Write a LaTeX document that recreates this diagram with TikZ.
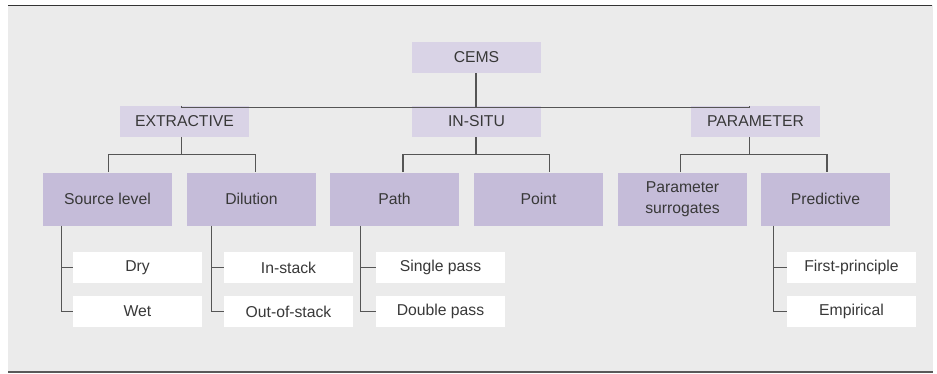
\documentclass[tikz,border=0pt]{standalone}
\usepackage{fontspec}
\setmainfont{Liberation Sans}
\usetikzlibrary{calc}
\definecolor{bgc}{HTML}{EBEBEB}
\definecolor{lavl}{HTML}{D9D3E6}
\definecolor{lavd}{HTML}{C5BCD9}
\definecolor{linec}{HTML}{555555}
\definecolor{txtc}{HTML}{383838}
\tikzset{
  box/.style={rectangle, inner sep=0pt, minimum width=96.75pt, font=\fontsize{11.8}{15.5}\selectfont, text=txtc, align=center},
  topbox/.style={box, fill=lavl, minimum height=23.25pt},
  midbox/.style={box, fill=lavd, minimum height=39.75pt},
  leafbox/.style={box, fill=white, minimum height=23.25pt},
  conn/.style={draw=linec, line width=0.95pt}
}
\begin{document}
\begin{tikzpicture}[x=0.75pt, y=-0.75pt]
\useasboundingbox (0,0) rectangle (937,374);
\fill[bgc] (8,5.5) rectangle (932.5,371);
\draw[line width=1.1pt, color=black!80] (8,5.5) -- (931.5,5.5);
\draw[line width=1.9pt, color=black!65] (8,371.8) -- (932.5,371.8);

% level 1 and 2
\node[topbox] (cems) at (476.5,57.5) {CEMS};
\node[topbox] (extr) at (184.5,121.5) {EXTRACTIVE};
\node[topbox] (insitu) at (476.5,121.5) {IN-SITU};
\node[topbox] (param) at (755.5,121.5) {PARAMETER};

% level 3
\node[midbox] (src) at (107.5,199) {Source level};
\node[midbox] (dil) at (251.5,199) {Dilution};
\node[midbox] (path) at (394.5,199) {Path};
\node[midbox] (point) at (538.5,199) {Point};
\node[midbox] (surr) at (682.5,199) {Parameter\\surrogates};
\node[midbox] (pred) at (825.5,199) {Predictive};

% level 4
\node[leafbox] (dry) at (137.5,267.5) {Dry};
\node[leafbox] (wet) at (137.5,311.5) {Wet};
\node[leafbox] (instack) at (288.5,267.5) {In-stack};
\node[leafbox] (outstack) at (288.5,311.5) {Out-of-stack};
\node[leafbox] (single) at (440.5,267.5) {Single pass};
\node[leafbox] (double) at (440.5,311.5) {Double pass};
\node[leafbox] (first) at (851.5,267.5) {First-principle};
\node[leafbox] (emp) at (851.5,311.5) {Empirical};

% level 1 -> 2
\coordinate (b1) at ($(cems.south)+(-0.5,34.5)$);
\draw[conn] (cems.south -| b1) -- (b1);
\draw[conn] ($(extr.north)+(-2.8,0)$) |- (b1) -| ($(param.north)+(-5.8,0)$);
\draw[conn] (b1) -- (insitu.north -| b1);

% level 2 -> 3
\draw[conn] ($(extr.south)+(-2.8,0)$) -- ++(0,17.3);
\draw[conn] ($(src.north)+(0.8,0)$) |- ($(extr.south)+(0,17.3)$) -| ($(dil.north)+(4.2,0)$);
\draw[conn] ($(insitu.south)+(-0.5,0)$) -- ++(0,17.3);
\draw[conn] ($(path.north)+(8.5,0)$) |- ($(insitu.south)+(0,17.3)$) -| ($(point.north)+(11.2,0)$);
\draw[conn] ($(param.south)+(-5.8,0)$) -- ++(0,17.3);
\draw[conn] ($(surr.north)+(-2.2,0)$) |- ($(param.south)+(0,17.3)$) -| ($(pred.north)+(1.5,0)$);

% level 3 -> 4
\draw[conn] ($(src.south west)+(19,0)$) |- (wet.west);
\draw[conn] ($(src.south west)+(19,0)$) |- (dry.west);
\draw[conn] ($(dil.south west)+(25,0)$) |- (outstack.west);
\draw[conn] ($(dil.south west)+(25,0)$) |- (instack.west);
\draw[conn] ($(path.south west)+(31,0)$) |- (double.west);
\draw[conn] ($(path.south west)+(31,0)$) |- (single.west);
\draw[conn] ($(pred.south west)+(12.7,0)$) |- (emp.west);
\draw[conn] ($(pred.south west)+(12.7,0)$) |- (first.west);
\end{tikzpicture}
\end{document}
